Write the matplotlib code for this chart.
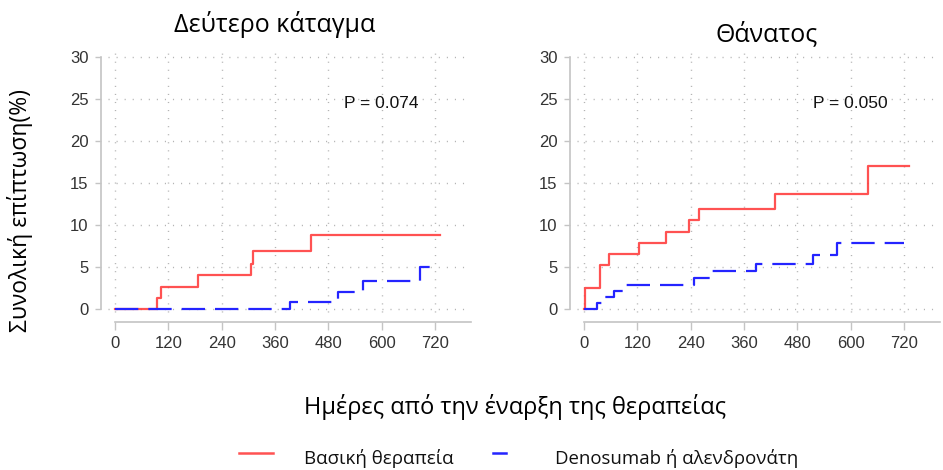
import matplotlib
matplotlib.use("Agg")
import matplotlib.pyplot as plt
from matplotlib.lines import Line2D

# Data (days, cumulative incidence %)
fx_basic_t = [0, 94, 103, 186, 305, 310, 442, 731]
fx_basic_v = [0, 1.3, 2.6, 4.0, 5.3, 6.9, 8.8, 8.8]
fx_deno_t = [0, 394, 501, 559, 686, 730]
fx_deno_v = [0, 0.8, 2.0, 3.3, 5.0, 5.0]

death_basic_t = [0, 3, 37, 56, 124, 185, 236, 259, 429, 639, 731]
death_basic_v = [0, 2.5, 5.2, 6.5, 7.8, 9.2, 10.6, 11.9, 13.7, 17.0, 17.0]
death_deno_t = [0, 30, 47, 67, 93, 248, 287, 388, 515, 570, 720]
death_deno_v = [0, 0.7, 1.4, 2.2, 2.9, 3.7, 4.5, 5.3, 6.4, 7.8, 7.8]

titles = ["Δεύτερο κάταγμα", "Θάνατος"]
pvalues = ["P = 0.074", "P = 0.050"]
xticks = [0, 120, 240, 360, 480, 600, 720]
yticks = [0, 5, 10, 15, 20, 25, 30]
labels = ["Βασική θεραπεία", "Denosumab ή αλενδρονάτη"]

RED = "#ff3434"
BLUE = "#2424ff"
GRID = "#b4b4b4"
SPINE = "#c4c4c4"
TXT_FONT = ["Open Sans", "DejaVu Sans"]
NUM_FONT = ["Liberation Sans", "DejaVu Sans"]

W, H = 943, 470
fig = plt.figure(figsize=(W / 100, H / 100), dpi=100)


def fx(px):
    return px / W


def fy(py):
    return 1 - py / H


panels = [
    (101, fx_basic_t, fx_basic_v, fx_deno_t, fx_deno_v),
    (570, death_basic_t, death_basic_v, death_deno_t, death_deno_v),
]

for i, (left, bt, bv, dt, dv) in enumerate(panels):
    ax = fig.add_axes([fx(left), fy(322), 369.6 / W, (322 - 47) / H])
    ax.set_xlim(-31.5, 800)
    ax.set_ylim(-1.55, 31.2)

    # dotted grid
    ax.hlines(yticks, -16, 800, colors=GRID, linewidth=1.0,
              linestyles=(0, (0.8, 5)), zorder=1)
    ax.vlines(xticks, -0.3, 31.2, colors=GRID, linewidth=1.0,
              linestyles=(0, (0.8, 5)), zorder=1)

    ax.step(bt, bv, where="post", color=RED, linewidth=1.6, alpha=0.85, zorder=3)
    ax.step(dt, dv, where="post", color=BLUE, linewidth=1.6,
            linestyle=(0, (10.5, 4.5)), zorder=4)

    for s in ["top", "right"]:
        ax.spines[s].set_visible(False)
    ax.spines["left"].set_bounds(0, 30)
    ax.spines["bottom"].set_bounds(0, 800)
    for s in ["left", "bottom"]:
        ax.spines[s].set_color(SPINE)
        ax.spines[s].set_linewidth(1.2)

    ax.set_xticks(xticks)
    ax.set_yticks(yticks)
    ax.tick_params(axis="y", length=4, width=1, color=SPINE, pad=5,
                   labelsize=12, labelcolor="#333333")
    ax.tick_params(axis="x", length=6, width=1, color=SPINE, pad=4,
                   labelsize=12, labelcolor="#333333")
    for lab in ax.get_xticklabels() + ax.get_yticklabels():
        lab.set_family(NUM_FONT)

    ax.text(683, 24.5, pvalues[i], ha="right", va="center", fontsize=12.5,
            family=NUM_FONT, color="#111111")

# titles
fig.text(fx(275), fy(24), titles[0], ha="center", va="center", fontsize=18,
         family=TXT_FONT)
fig.text(fx(767), fy(34), titles[1], ha="center", va="center", fontsize=18,
         family=TXT_FONT)

# axis labels
fig.text(fx(20), fy(210), "Συνολική επίπτωση(%)", rotation=90, ha="center",
         va="center", fontsize=16.5, family=TXT_FONT)
fig.text(fx(515), fy(407), "Ημέρες από την έναρξη της θεραπείας", ha="center",
         va="center", fontsize=17, family=TXT_FONT)

# legend
fig.add_artist(Line2D([fx(239), fx(273)], [fy(453), fy(453)], color=RED,
                      linewidth=1.8, alpha=0.85))
fig.add_artist(Line2D([fx(493), fx(506)], [fy(453), fy(453)], color=BLUE,
                      linewidth=1.8))
fig.text(fx(304), fy(459), labels[0], ha="left", va="center", fontsize=13.5,
         family=TXT_FONT, color="#111111")
fig.text(fx(555), fy(459), labels[1], ha="left", va="center", fontsize=13.4,
         family=TXT_FONT, color="#111111")

fig.savefig("out.png", dpi=100)
